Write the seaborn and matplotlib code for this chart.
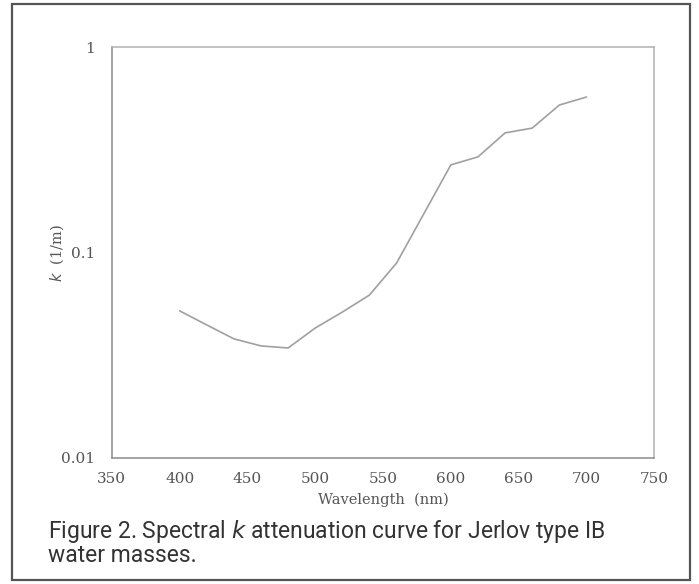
import numpy as np
import pandas as pd
from matplotlib import pyplot as plt
from matplotlib.patches import Rectangle
from matplotlib.ticker import FixedLocator, FixedFormatter, NullLocator
import seaborn as sns

# values
wavelength = [400, 420, 440, 460, 480, 500, 520, 540, 560, 580,
              600, 620, 640, 660, 680, 700]
k_atten = [0.052, 0.0444, 0.038, 0.0351, 0.0343, 0.0429, 0.0513, 0.0621,
           0.0889, 0.154, 0.267, 0.292, 0.382, 0.403, 0.522, 0.571]
x_ticks = [350, 400, 450, 500, 550, 600, 650, 700, 750]
y_ticks = [0.01, 0.1, 1]
y_tick_labels = ['0.01', '0.1', '1']

df = pd.DataFrame({'wavelength': wavelength, 'k': k_atten})

sns.set_style('white')
serif = ['DejaVu Serif']

fig = plt.figure(figsize=(6.99, 5.84), dpi=100)
ax = fig.add_axes([0.160, 0.2158, 0.776, 0.7037])

sns.lineplot(data=df, x='wavelength', y='k', ax=ax,
             color='#a0a0a0', lw=1.2)

ax.set_yscale('log')
ax.set_xlim(350, 750)
ax.set_ylim(0.01, 1)

ax.xaxis.set_major_locator(FixedLocator(x_ticks))
ax.yaxis.set_major_locator(FixedLocator(y_ticks))
ax.yaxis.set_major_formatter(FixedFormatter(y_tick_labels))
ax.yaxis.set_minor_locator(NullLocator())
ax.tick_params(axis='both', direction='in', length=5, width=0.8,
               color='#888888', labelcolor='#555555', labelsize=11)
ax.tick_params(axis='x', pad=10)
ax.tick_params(axis='y', pad=12)
for lab in ax.get_xticklabels() + ax.get_yticklabels():
    lab.set_family(serif)

for side in ['left', 'bottom']:
    ax.spines[side].set_color('#8c8c8c')
    ax.spines[side].set_linewidth(1.1)
for side in ['top', 'right']:
    ax.spines[side].set_color('#b0b0b0')
    ax.spines[side].set_linewidth(1.1)

ax.set_xlabel('Wavelength  (nm)', family=serif, fontsize=10.5,
              color='#555555', labelpad=5)
ax.set_ylabel(r'$k$  (1/m)', family=serif, fontsize=10.5,
              color='#555555')
ax.yaxis.set_label_coords(-0.085, 0.5)

# caption below the chart
cap = ['Roboto', 'DejaVu Sans']
fig.text(0.069, 0.090, r'Figure 2. Spectral $\mathit{k}$ attenuation curve for Jerlov type IB',
         family=cap, fontsize=16.5, color='#333333', va='center')
fig.text(0.069, 0.049, 'water masses.', family=cap, fontsize=16.5,
         color='#333333', va='center')

# frame around the whole figure
fig.patches.append(Rectangle((12 / 699, 1 - 580 / 584), 678 / 699, 576 / 584,
                             transform=fig.transFigure, fill=False,
                             edgecolor='#555555', lw=1.6))

plt.savefig('out.png', dpi=100)
